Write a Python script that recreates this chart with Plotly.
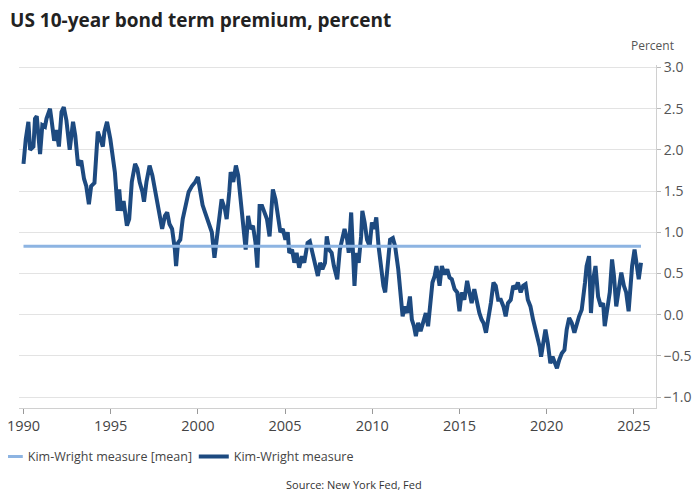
import plotly.graph_objects as go

# Kim-Wright 10-year term premium (percent)
years = [
    1990.00, 1990.13, 1990.28, 1990.38, 1990.57, 1990.66, 1990.76, 1990.95, 1991.08, 1991.23,
    1991.32, 1991.52, 1991.61, 1991.76, 1991.89, 1992.03, 1992.18, 1992.31, 1992.46, 1992.65,
    1992.84, 1992.97, 1993.13, 1993.31, 1993.47, 1993.60, 1993.75, 1993.88, 1994.07, 1994.26,
    1994.41, 1994.55, 1994.64, 1994.79, 1994.98, 1995.11, 1995.24, 1995.40, 1995.49, 1995.59,
    1995.74, 1995.93, 1996.06, 1996.21, 1996.40, 1996.53, 1996.66, 1996.82, 1996.91, 1997.05,
    1997.23, 1997.39, 1997.57, 1997.77, 1997.95, 1998.11, 1998.24, 1998.37, 1998.52, 1998.68,
    1998.75, 1998.86, 1998.99, 1999.13, 1999.32, 1999.47, 1999.66, 1999.85, 2000.00, 2000.13,
    2000.27, 2000.41, 2000.61, 2000.80, 2000.95, 2001.08, 2001.21, 2001.36, 2001.55, 2001.65,
    2001.80, 2001.88, 2002.03, 2002.18, 2002.31, 2002.40, 2002.50, 2002.63, 2002.74, 2002.88,
    2003.01, 2003.16, 2003.30, 2003.41, 2003.54, 2003.68, 2003.82, 2003.96, 2004.11, 2004.20,
    2004.30, 2004.45, 2004.59, 2004.73, 2004.87, 2005.02, 2005.15, 2005.24, 2005.40, 2005.53,
    2005.66, 2005.81, 2005.97, 2006.10, 2006.29, 2006.42, 2006.57, 2006.72, 2006.88, 2007.01,
    2007.14, 2007.29, 2007.39, 2007.52, 2007.67, 2007.80, 2007.99, 2008.14, 2008.28, 2008.41,
    2008.56, 2008.65, 2008.79, 2008.90, 2008.98, 2009.09, 2009.22, 2009.36, 2009.43, 2009.56,
    2009.70, 2009.85, 2009.98, 2010.11, 2010.23, 2010.36, 2010.49, 2010.64, 2010.74, 2010.87,
    2011.02, 2011.18, 2011.31, 2011.49, 2011.63, 2011.74, 2011.88, 2012.01, 2012.16, 2012.27,
    2012.39, 2012.50, 2012.63, 2012.77, 2012.91, 2013.07, 2013.20, 2013.33, 2013.45, 2013.58,
    2013.68, 2013.86, 2013.99, 2014.15, 2014.30, 2014.43, 2014.56, 2014.72, 2014.87, 2015.00,
    2015.13, 2015.28, 2015.44, 2015.57, 2015.70, 2015.85, 2016.01, 2016.14, 2016.27, 2016.38,
    2016.52, 2016.65, 2016.80, 2016.95, 2017.08, 2017.22, 2017.37, 2017.52, 2017.65, 2017.78,
    2017.94, 2018.08, 2018.22, 2018.35, 2018.51, 2018.65, 2018.79, 2018.92, 2019.07, 2019.22,
    2019.36, 2019.45, 2019.60, 2019.68, 2019.79, 2019.93, 2020.07, 2020.21, 2020.34, 2020.45,
    2020.59, 2020.72, 2020.87, 2021.02, 2021.15, 2021.29, 2021.44, 2021.59, 2021.72, 2021.86,
    2022.01, 2022.10, 2022.20, 2022.29, 2022.43, 2022.54, 2022.67, 2022.80, 2022.95, 2023.11,
    2023.24, 2023.33, 2023.48, 2023.62, 2023.75, 2023.86, 2023.99, 2024.13, 2024.28, 2024.43,
    2024.56, 2024.70, 2024.81, 2024.90, 2025.04, 2025.17, 2025.28, 2025.41,
]
term_premium = [
    1.83, 2.13, 2.34, 2.00, 2.04, 2.38, 2.41, 1.95, 2.30, 2.28,
    2.38, 2.50, 2.36, 2.11, 2.24, 2.04, 2.46, 2.52, 2.36, 2.00,
    2.34, 2.17, 1.81, 1.87, 1.65, 1.56, 1.34, 1.56, 1.60, 2.22,
    2.13, 2.04, 2.22, 2.34, 2.13, 1.89, 1.73, 1.26, 1.52, 1.26,
    1.38, 1.08, 1.16, 1.61, 1.83, 1.77, 1.61, 1.49, 1.37, 1.61,
    1.81, 1.69, 1.49, 1.28, 1.04, 1.20, 1.24, 1.10, 1.04, 0.79,
    0.59, 0.87, 0.91, 1.16, 1.37, 1.49, 1.56, 1.61, 1.67, 1.49,
    1.33, 1.24, 1.12, 1.00, 0.69, 0.91, 1.16, 1.40, 1.28, 1.16,
    1.49, 1.73, 1.61, 1.81, 1.69, 1.49, 1.20, 0.91, 0.79, 1.20,
    1.04, 1.08, 0.88, 0.57, 1.32, 1.32, 1.24, 1.16, 0.95, 1.20,
    1.52, 1.40, 1.16, 1.00, 1.04, 0.91, 1.00, 0.75, 0.79, 0.63,
    0.75, 0.57, 0.71, 0.63, 0.87, 0.89, 0.75, 0.59, 0.47, 0.63,
    0.55, 0.63, 0.95, 0.79, 0.75, 0.59, 0.43, 0.79, 0.91, 1.04,
    0.91, 0.75, 1.24, 0.79, 0.35, 0.75, 0.63, 0.95, 1.26, 1.12,
    0.91, 0.83, 1.12, 1.04, 1.18, 0.83, 0.59, 0.35, 0.27, 0.63,
    0.91, 0.93, 0.83, 0.55, 0.18, -0.02, 0.10, 0.02, 0.22, -0.06,
    -0.14, -0.26, -0.10, -0.20, -0.10, 0.02, -0.14, 0.10, 0.39, 0.47,
    0.59, 0.35, 0.59, 0.49, 0.55, 0.45, 0.43, 0.31, 0.27, 0.04,
    0.27, 0.18, 0.41, 0.27, 0.14, 0.31, 0.14, 0.02, -0.06, -0.10,
    -0.22, -0.06, 0.14, 0.39, 0.35, 0.18, 0.18, 0.10, -0.02, 0.14,
    0.18, 0.35, 0.31, 0.39, 0.27, 0.35, 0.37, 0.18, 0.10, -0.06,
    -0.18, -0.26, -0.39, -0.51, -0.35, -0.18, -0.35, -0.59, -0.51, -0.59,
    -0.65, -0.55, -0.47, -0.43, -0.18, -0.04, -0.10, -0.22, -0.10, -0.02,
    0.06, 0.18, 0.39, 0.59, 0.71, 0.02, 0.43, 0.59, 0.22, 0.10,
    0.14, -0.14, 0.10, 0.27, 0.67, 0.47, 0.10, 0.31, 0.51, 0.35,
    0.27, 0.04, 0.35, 0.59, 0.79, 0.59, 0.43, 0.63,
]
mean_value = 0.83
x_ticks = [1990, 1995, 2000, 2005, 2010, 2015, 2020, 2025]
y_ticks = [-1.0, -0.5, 0.0, 0.5, 1.0, 1.5, 2.0, 2.5, 3.0]

FONT = "Open Sans"
DARK = "#1d4a80"
LIGHT = "#8db4e2"

fig = go.Figure()
fig.add_trace(go.Scatter(
    x=years, y=term_premium, mode="lines", name="Kim-Wright measure",
    line=dict(color=DARK, width=4), legendrank=2,
))
fig.add_trace(go.Scatter(
    x=[years[0], years[-1]], y=[mean_value, mean_value], mode="lines",
    name="Kim-Wright measure [mean]",
    line=dict(color=LIGHT, width=3), legendrank=1,
))

fig.update_layout(
    width=700, height=500,
    margin=dict(l=11, r=52, t=57, b=100, autoexpand=False),
    paper_bgcolor="white", plot_bgcolor="white",
    font=dict(family=FONT, size=14, color="#444"),
    title=dict(text="<b>US 10-year bond term premium, percent</b>",
               x=0.003, xanchor="left", y=0.976, yanchor="middle",
               font=dict(family=FONT, size=19, color="#222")),
    showlegend=True,
    legend=dict(orientation="h", x=-0.049, xanchor="left", y=-0.1425, yanchor="middle",
                xref="paper", yref="paper", itemwidth=30, entrywidth=161,
                font=dict(family=FONT, size=12.5, color="#444"),
                traceorder="normal", bgcolor="rgba(0,0,0,0)"),
    xaxis=dict(range=[1989.742, 2026.27], tickvals=x_ticks, automargin=False,
               showgrid=False, zeroline=False, ticklabeloverflow="allow",
               showline=True, linecolor="#d0d0d0", linewidth=1,
               ticks="outside", ticklen=5, tickcolor="#999",
               tickfont=dict(family=FONT, size=14.5, color="#444")),
    yaxis=dict(range=[-1.133, 3.03], tickvals=y_ticks, tickformat=".1f",
               side="right", automargin=False, showgrid=True,
               gridcolor="#e3e3e3", gridwidth=1, ticklabeloverflow="allow",
               zeroline=False, showline=True, linecolor="#d0d0d0", linewidth=1,
               ticks="outside", ticklen=4, tickcolor="#bbb", ticklabelstandoff=0,
               tickfont=dict(family=FONT, size=14, color="#555")),
    annotations=[
        dict(text="Percent", xref="paper", yref="paper", x=1.031, y=1.058,
             xanchor="right", yanchor="middle", showarrow=False,
             font=dict(family=FONT, size=12, color="#555")),
        dict(text="Source: New York Fed, Fed", xref="paper", yref="paper",
             x=0.526, y=-0.224, xanchor="center", yanchor="middle", showarrow=False,
             font=dict(family=FONT, size=11, color="#333")),
    ],
)

fig.write_html("out.html")
